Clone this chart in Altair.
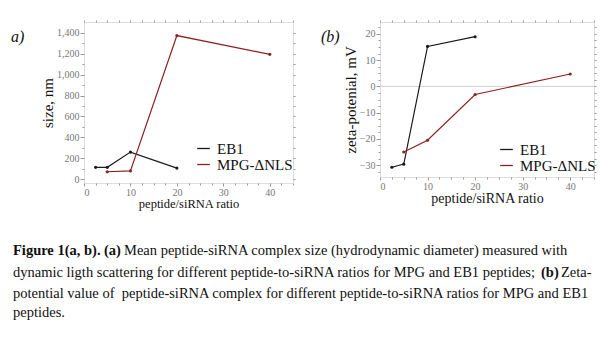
import altair as alt
import pandas as pd

# ---- data ----
series_names = ["EB1", "MPG-ΔNLS"]
ratio_eb1 = [2.5, 5, 10, 20]
size_eb1 = [112, 112, 258, 105]
zeta_eb1 = [-30.8, -29.6, 15.2, 18.9]
ratio_mpg = [5, 10, 20, 40]
size_mpg = [70, 78, 1375, 1195]
zeta_mpg = [-25.0, -20.5, -3.1, 4.7]

size_ticks = [0, 200, 400, 600, 800, 1000, 1200, 1400]
zeta_ticks = [-30, -20, -10, 0, 10, 20]

df = pd.DataFrame({
    "series": [series_names[0]] * len(ratio_eb1) + [series_names[1]] * len(ratio_mpg),
    "ratio": ratio_eb1 + ratio_mpg,
    "size": size_eb1 + size_mpg,
    "zeta": zeta_eb1 + zeta_mpg,
})

SERIF = "Liberation Serif"
colors = ["#1a1a1a", "#8b2222"]
color_scale = alt.Scale(domain=series_names, range=colors)

minor_x = [v * 2.5 for v in range(0, 19)]

CAP = 14.5
caption_segments = [
    ("Figure 1(a, b).", -71, 233, "bold"),
    ("(a)", 20, 233, "bold"),
    ("Mean peptide-siRNA complex size (hydrodynamic diameter) measured with", 40, 233, "normal"),
    ("dynamic ligth scattering for different peptide-to-siRNA ratios for MPG and EB1 peptides;", -71, 255, "normal"),
    ("(b)", 457, 255, "bold"),
    ("Zeta-", 477, 255, "normal"),
    ("potential value of\u00a0 peptide-siRNA complex for different peptide-to-siRNA ratios for MPG and EB1", -71, 276, "normal"),
    ("peptides.", -71, 295, "normal"),
]


def panel(yfield, ytitle, ydomain, yticks, yminor, label, label_dx, w, h, legend_x, legend_y,
          zero_line, xtitle_size, ytitle_size, extra=()):
    xscale = alt.Scale(domain=[0, 45], nice=False, zero=False)
    yscale = alt.Scale(domain=ydomain, nice=False, zero=False)
    xaxis = alt.Axis(
        values=minor_x,
        labelExpr="datum.value % 10 === 0 ? datum.label : ''",
        tickSize={"condition": {"test": "datum.value % 10 === 0", "value": 3}, "value": 2},
        title="peptide/siRNA ratio", titleFont=SERIF, titleFontSize=xtitle_size, titleFontWeight="normal",
        titleColor="#111", titlePadding=0,
        labelFont=SERIF, labelFontSize=10, labelColor="#777", labelPadding=1,
        domain=False, tickColor="#999", grid=False,
    )
    ylist = "[" + ",".join(str(v) for v in yticks) + "]"
    yaxis = alt.Axis(
        values=yminor,
        labelExpr="indexof(%s, datum.value) >= 0 ? format(datum.value, ',') : ''" % ylist,
        tickSize={"condition": {"test": "indexof(%s, datum.value) >= 0" % ylist, "value": 4}, "value": 2},
        title=ytitle, titleFont=SERIF, titleFontSize=ytitle_size, titleFontWeight="normal",
        titleColor="#111", titlePadding=1,
        labelFont=SERIF, labelFontSize=10, labelColor="#777", labelPadding=1,
        domain=False, tickColor="#999", grid=False,
    )
    base = alt.Chart(df)
    line = base.mark_line(strokeWidth=1.2).encode(
        x=alt.X("ratio:Q", scale=xscale, axis=xaxis),
        y=alt.Y(f"{yfield}:Q", scale=yscale, axis=yaxis),
        color=alt.Color("series:N", scale=color_scale, title=None,
                        legend=alt.Legend(orient="none", legendX=legend_x, legendY=legend_y,
                                          symbolType="stroke", symbolSize=160, symbolStrokeWidth=1.3,
                                          labelFont=SERIF, labelFontSize=15, labelColor="#111",
                                          rowPadding=0, labelOffset=6)),
        detail="series:N",
    )
    pts = base.mark_point(filled=True, size=10, opacity=1).encode(
        x=alt.X("ratio:Q", scale=xscale, axis=None),
        y=alt.Y(f"{yfield}:Q", scale=yscale, axis=None),
        color=alt.Color("series:N", scale=color_scale, legend=None),
    )
    dummy = base.mark_point(opacity=0).encode(
        x=alt.X("ratio:Q", scale=xscale,
                axis=alt.Axis(orient="top", values=minor_x, labels=False, title=None, domain=False,
                              tickSize=2, tickColor="#999", grid=False)),
        y=alt.Y(f"{yfield}:Q", scale=yscale,
                axis=alt.Axis(orient="right", values=yminor, labels=False, title=None, domain=False,
                              tickSize=2, tickColor="#999", grid=False)),
    )
    lab = alt.Chart(pd.DataFrame({"t": [label]})).mark_text(
        align="left", baseline="middle", font=SERIF, fontSize=16, fontStyle="italic", color="#111"
    ).encode(x=alt.value(label_dx), y=alt.value(15), text="t:N")
    layers = [line, pts]
    if zero_line:
        zl = alt.Chart(pd.DataFrame({"z": [0]})).mark_rule(color="#d0d0d0", strokeWidth=1).encode(
            y=alt.Y("z:Q", scale=yscale, axis=None))
        layers = [zl] + layers
    layers = layers + [lab] + list(extra) + [dummy]
    return alt.layer(*layers).resolve_axis(x="independent", y="independent").properties(width=w, height=h)


cap_layers = []
for text, x, y, wt in caption_segments:
    cap_layers.append(
        alt.Chart(pd.DataFrame({"t": [text]})).mark_text(
            align="left", baseline="alphabetic", font=SERIF, fontSize=CAP, fontWeight=wt, color="#111"
        ).encode(x=alt.value(x), y=alt.value(y), text="t:N")
    )

pa = panel("size", "size, nm", [-38, 1505], size_ticks, [v * 100 for v in range(0, 15)],
           "a)", -73, 209, 161, 112, 119, False, 12.5, 15, extra=cap_layers)
pb = panel("zeta", "zeta-potenial, mV", [-34.5, 24.5], zeta_ticks, [v * 2.5 - 32.5 for v in range(0, 23)],
           "(b)", -59, 214, 155, 119, 120, True, 14, 15)

chart = alt.hconcat(pa, pb, spacing=87, bounds="flush").resolve_legend(color="independent").properties(
    padding={"left": 10, "top": 19, "right": 0, "bottom": 0}
).configure_view(stroke="#999", strokeWidth=1).configure(background="white")

chart.save("out.html", embed_options={"renderer": "svg", "actions": False})
